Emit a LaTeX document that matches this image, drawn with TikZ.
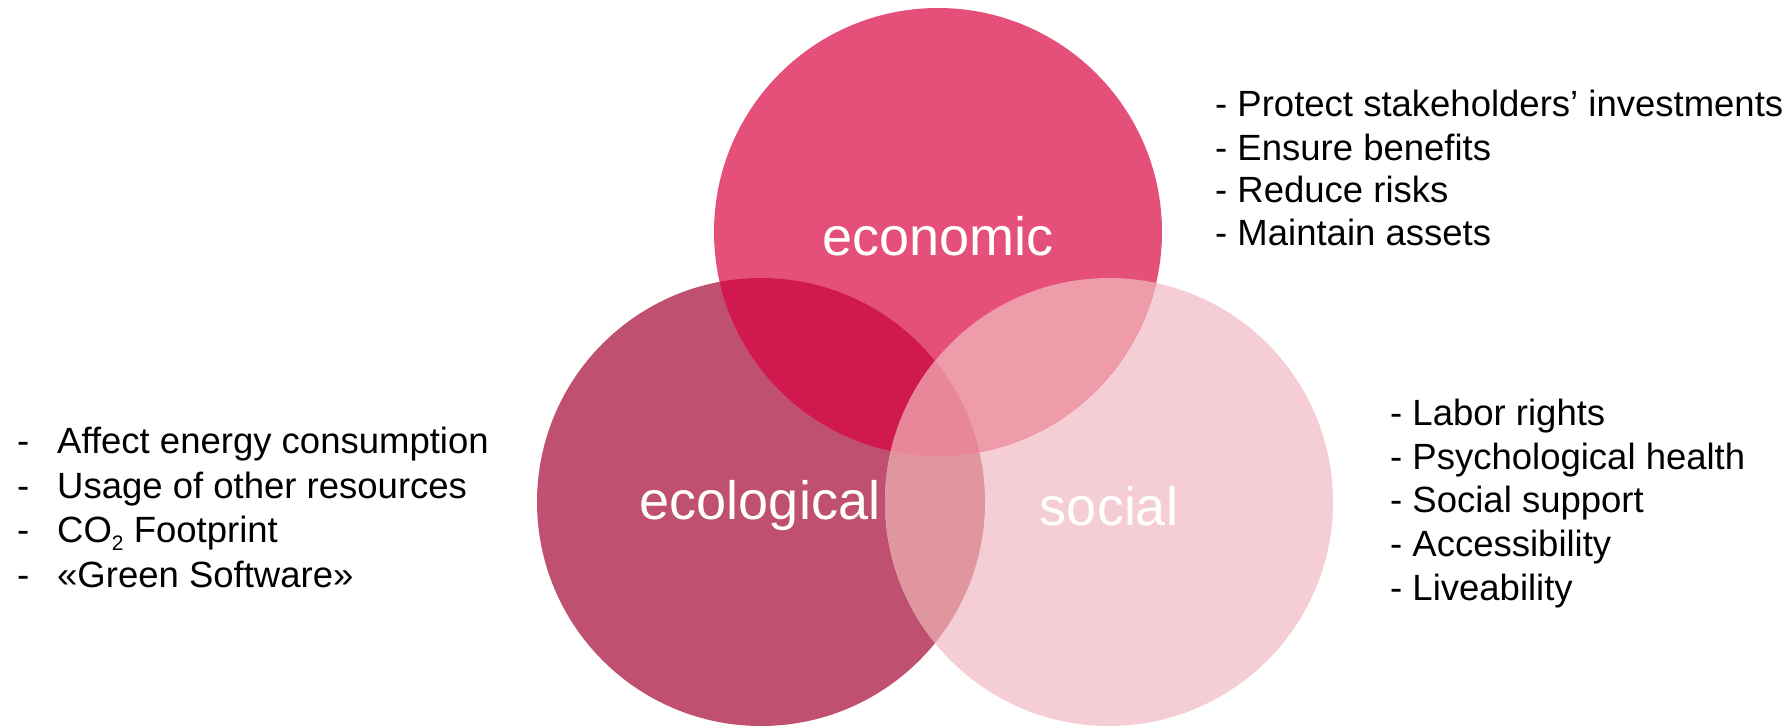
\documentclass[tikz,border=0pt]{standalone}
\usepackage{fontspec}
\setmainfont{Liberation Sans}
\definecolor{econC}{HTML}{E4507A}
\definecolor{ecoC}{HTML}{C0506F}
\definecolor{socC}{HTML}{F5CED5}
\definecolor{econEco}{HTML}{D0194F}
\definecolor{econSoc}{HTML}{EE9BAA}
\definecolor{ecoSoc}{HTML}{E0969F}
\definecolor{allC}{HTML}{E8879A}
\tikzset{
  biglabel/.style={text=white, font=\fontsize{54}{60}\selectfont, inner sep=0pt},
  item/.style={anchor=base west, inner sep=0pt, font=\fontsize{36.5}{40}\selectfont},
}
\newcommand{\leftdash}{\makebox[40pt][l]{-}}
\newcommand{\lowsub}[1]{\raisebox{-0.22em}{\fontsize{21}{22}\selectfont #1}}
\begin{document}
\begin{tikzpicture}[x=1pt,y=-1pt]
\useasboundingbox (0,0) rectangle (1791,726);
\coordinate (econ) at (938,232);
\coordinate (eco) at (761,502);
\coordinate (soc) at (1109,502);
\def\R{224pt}
% base circles
\fill[ecoC] (eco) circle (\R);
\fill[socC] (soc) circle (\R);
\fill[econC] (econ) circle (\R);
% pairwise overlaps
\begin{scope}
  \clip (econ) circle (\R);
  \fill[econEco] (eco) circle (\R);
  \fill[econSoc] (soc) circle (\R);
\end{scope}
\begin{scope}
  \clip (eco) circle (\R);
  \fill[ecoSoc] (soc) circle (\R);
\end{scope}
\begin{scope}
  \clip (eco) circle (\R);
  \clip (soc) circle (\R);
  \fill[allC] (econ) circle (\R);
\end{scope}
% circle labels
\node[biglabel] (leconomic) at (938,236) {economic};
\node[biglabel] (lecological) at (760,506) {ecological};
\node[biglabel] (lsocial) at (1109,506) {social};
% ecological list
\node[item] (e1) at (17,453) {\leftdash Affect energy consumption};
\node[item] (e2) at (17,498) {\leftdash Usage of other resources};
\node[item] (e3) at (17,542) {\leftdash CO\lowsub{2} Footprint};
\node[item] (e4) at (17,587) {\leftdash «Green Software»};
% economic list
\node[item] (c1) at (1215,116) {- Protect stakeholders’ investments};
\node[item] (c2) at (1215,160) {- Ensure benefits};
\node[item] (c3) at (1215,202) {- Reduce risks};
\node[item] (c4) at (1215,245) {- Maintain assets};
% social list
\node[item] (s1) at (1390,425) {- Labor rights};
\node[item] (s2) at (1390,469) {- Psychological health};
\node[item] (s3) at (1390,512) {- Social support};
\node[item] (s4) at (1390,556) {- Accessibility};
\node[item] (s5) at (1390,600) {- Liveability};
\end{tikzpicture}
\end{document}
